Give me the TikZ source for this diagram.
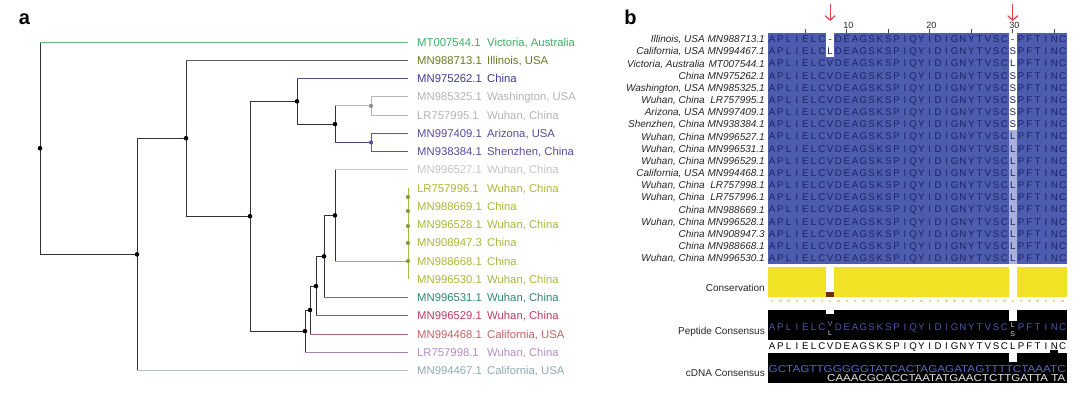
\documentclass[tikz,border=0pt]{standalone}
\usepackage{fontspec}
\setmainfont{Liberation Sans}
\usetikzlibrary{arrows.meta}
\definecolor{cVic}{HTML}{3FAE63}
\definecolor{cIll}{HTML}{6B7A22}
\definecolor{cChn}{HTML}{3C3C90}
\definecolor{cLg}{HTML}{B4B4B4}
\definecolor{cPur}{HTML}{5A4C9E}
\definecolor{cLgb}{HTML}{C4C4C4}
\definecolor{cYel}{HTML}{A8B83C}
\definecolor{cTeal}{HTML}{2E8A6E}
\definecolor{cCrim}{HTML}{C43A60}
\definecolor{cRose}{HTML}{C26466}
\definecolor{cLav}{HTML}{B48CC8}
\definecolor{cSlate}{HTML}{8EAAAE}
\definecolor{cTree}{HTML}{333333}
\definecolor{aBlue}{HTML}{4E5CAE}
\definecolor{aLet}{HTML}{1C2468}
\definecolor{aLight}{HTML}{A9B0DC}
\definecolor{consY}{HTML}{F2E226}
\definecolor{cBrown}{HTML}{6E2E0E}
\definecolor{dimBlue}{HTML}{4C56A8}
\definecolor{dnaBlue}{HTML}{5A66C4}
\definecolor{arrRed}{HTML}{E04444}
\definecolor{dotY}{HTML}{E2D99A}
\newcommand{\alnrow}[3]{%
  \node[rl] (loc#1) at (705,{26.92+12.17*#1}) {#2};
  \node[rl] (acc#1) at (765,{26.92+12.17*#1}) {#3};}
\begin{document}
\begin{tikzpicture}[x=1pt,y=-1pt,
  tline/.style={cTree,line width=0.9pt},
  hline/.style={line width=0.9pt},
  tacc/.style={anchor=west,inner sep=0pt,font=\fontsize{11.3}{12}\selectfont,text height=8.1pt,text depth=0pt},
  rl/.style={anchor=east,inner sep=0pt,font=\fontsize{10}{11}\selectfont\itshape,text=black!85,text height=7.2pt,text depth=0pt},
  aa/.style={inner sep=0pt,font=\fontsize{9.7}{10}\selectfont,text=aLet,text height=7pt,text depth=0pt},
  pc/.style={inner sep=0pt,font=\fontsize{9.7}{10}\selectfont,text=dimBlue,text height=7pt,text depth=0pt},
  pcs/.style={inner sep=0pt,font=\fontsize{7}{8}\selectfont,text height=5pt,text depth=0pt},
  cc/.style={inner sep=0pt,font=\fontsize{9.7}{10}\selectfont,text=black,text height=7pt,text depth=0pt},
  lab/.style={anchor=east,inner sep=0pt,font=\fontsize{10}{11}\selectfont,text=black!85,text height=7.2pt,text depth=0pt},
  num/.style={inner sep=0pt,font=\fontsize{9}{10}\selectfont,text=black!85},
  panel/.style={inner sep=0pt,font=\fontsize{20}{22}\selectfont\bfseries},
  redarrow/.style={arrRed,line width=1.2pt,-{Straight Barb[length=4.5pt,width=10pt]}},
  tick/.style={black!70,line width=0.6pt}]
\useasboundingbox (0,0) rectangle (1080,412);
\fill[white] (0,0) rectangle (1080,412);

% ---------------- panel a ----------------
\node[panel] (pa) at (24.5,19) {a};

% leaves
\coordinate (l0) at (408,42);
\coordinate (l1) at (408,60.25);
\coordinate (l2) at (408,78.5);
\coordinate (l3) at (408,96.75);
\coordinate (l4) at (408,115);
\coordinate (l5) at (408,133.25);
\coordinate (l6) at (408,151.5);
\coordinate (l7) at (408,169.75);
\coordinate (l8) at (408,188);
\coordinate (l9) at (408,206.25);
\coordinate (l10) at (408,224.5);
\coordinate (l11) at (408,242.75);
\coordinate (l12) at (408,261);
\coordinate (l13) at (408,279.25);
\coordinate (l14) at (408,297.5);
\coordinate (l15) at (408,315.75);
\coordinate (l16) at (408,334);
\coordinate (l17) at (408,352.25);
\coordinate (l18) at (408,370.5);
% internal nodes
\coordinate (R) at (40,148.2);
\coordinate (A) at (137,254.4);
\coordinate (B) at (186,138.2);
\coordinate (C) at (250,216.2);
\coordinate (D) at (297,101.3);
\coordinate (F) at (335,124.1);
\coordinate (G) at (371,105.9);
\coordinate (H) at (371,142.4);
\coordinate (E) at (305,331.1);
\coordinate (I) at (310,310.0);
\coordinate (J) at (316,286.1);
\coordinate (K) at (324,256.4);
\coordinate (L) at (335,215.4);
\coordinate (Y) at (408,261);

% verticals
\draw[tline] (R|-l0) -- (R|-A);
\draw[tline] (A|-B) -- (A|-l18);
\draw[tline] (B|-l1) -- (B|-C);
\draw[tline] (C|-D) -- (C|-E);
\draw[tline] (D|-l2) -- (D|-F);
\draw[tline] (F|-G) -- (F|-H);
\draw[tline] (E|-I) -- (E|-l17);
\draw[tline] (I|-J) -- (I|-l16);
\draw[tline] (J|-K) -- (J|-l15);
\draw[tline] (K|-L) -- (K|-l14);
\draw[tline] (L|-l7) -- (L|-Y);
\draw[hline,cLg] (G|-l3) -- (G|-l4);
\draw[hline,cPur!85!gray] (H|-l5) -- (H|-l6);
\draw[hline,cYel] (l8) -- (l13);
% internal horizontals
\draw[tline] (R|-A) -- (A);
\draw[tline] (A|-B) -- (B);
\draw[tline] (B|-C) -- (C);
\draw[tline] (C|-D) -- (D);
\draw[tline] (C|-E) -- (E);
\draw[tline] (D|-F) -- (F);
\draw[hline,cLg] (F|-G) -- (G);
\draw[hline,cPur!80!black] (F|-H) -- (H);
\draw[tline] (E|-I) -- (I);
\draw[tline] (I|-J) -- (J);
\draw[tline] (J|-K) -- (K);
\draw[tline] (K|-L) -- (L);
% leaf horizontals
\draw[hline,cVic!85!white] (R|-l0) -- (l0);
\draw[hline,black!65] (B|-l1) -- (l1);
\draw[hline,cChn!70!gray] (D|-l2) -- (l2);
\draw[hline,cLg] (G|-l3) -- (l3);
\draw[hline,cLg] (G|-l4) -- (l4);
\draw[hline,cPur!85!gray] (H|-l5) -- (l5);
\draw[hline,cPur!85!gray] (H|-l6) -- (l6);
\draw[hline,cLgb] (L|-l7) -- (l7);
\draw[hline,cYel] (L|-Y) -- (Y);
\draw[hline,cTeal!80!gray] (K|-l14) -- (l14);
\draw[hline,cCrim!80!gray] (J|-l15) -- (l15);
\draw[hline,cRose!70!gray] (I|-l16) -- (l16);
\draw[hline,cLav!60!gray] (E|-l17) -- (l17);
\draw[hline,cSlate!70!white] (A|-l18) -- (l18);
% node dots
\foreach \n in {R,A,B,C,D,F,E,I,J,K,L} \fill[black] (\n) circle (2.3);
\fill[cLg!80!black] (G) circle (2.1);
\fill[cPur] (H) circle (2.1);
\foreach \yy in {197,211,226,243,261} \fill[cYel!85!black] (408,\yy) circle (2.1);

% tree labels
\node[tacc,text=cVic] (ta0) at (417,42) {MT007544.1};
\node[tacc,text=cVic] (tl0) at (487,42) {Victoria, Australia};
\node[tacc,text=cIll] (ta1) at (417,60.25) {MN988713.1};
\node[tacc,text=cIll] (tl1) at (487,60.25) {Illinois, USA};
\node[tacc,text=cChn] (ta2) at (417,78.5) {MN975262.1};
\node[tacc,text=cChn] (tl2) at (487,78.5) {China};
\node[tacc,text=cLg] (ta3) at (417,96.75) {MN985325.1};
\node[tacc,text=cLg] (tl3) at (487,96.75) {Washington, USA};
\node[tacc,text=cLg] (ta4) at (417,115) {LR757995.1};
\node[tacc,text=cLg] (tl4) at (487,115) {Wuhan, China};
\node[tacc,text=cPur] (ta5) at (417,133.25) {MN997409.1};
\node[tacc,text=cPur] (tl5) at (487,133.25) {Arizona, USA};
\node[tacc,text=cPur] (ta6) at (417,151.5) {MN938384.1};
\node[tacc,text=cPur] (tl6) at (487,151.5) {Shenzhen, China};
\node[tacc,text=cLgb] (ta7) at (417,169.75) {MN996527.1};
\node[tacc,text=cLgb] (tl7) at (487,169.75) {Wuhan, China};
\node[tacc,text=cYel] (ta8) at (417,188) {LR757996.1};
\node[tacc,text=cYel] (tl8) at (487,188) {Wuhan, China};
\node[tacc,text=cYel] (ta9) at (417,206.25) {MN988669.1};
\node[tacc,text=cYel] (tl9) at (487,206.25) {China};
\node[tacc,text=cYel] (ta10) at (417,224.5) {MN996528.1};
\node[tacc,text=cYel] (tl10) at (487,224.5) {Wuhan, China};
\node[tacc,text=cYel] (ta11) at (417,242.75) {MN908947.3};
\node[tacc,text=cYel] (tl11) at (487,242.75) {China};
\node[tacc,text=cYel] (ta12) at (417,261) {MN988668.1};
\node[tacc,text=cYel] (tl12) at (487,261) {China};
\node[tacc,text=cYel] (ta13) at (417,279.25) {MN996530.1};
\node[tacc,text=cYel] (tl13) at (487,279.25) {Wuhan, China};
\node[tacc,text=cTeal] (ta14) at (417,297.5) {MN996531.1};
\node[tacc,text=cTeal] (tl14) at (487,297.5) {Wuhan, China};
\node[tacc,text=cCrim] (ta15) at (417,315.75) {MN996529.1};
\node[tacc,text=cCrim] (tl15) at (487,315.75) {Wuhan, China};
\node[tacc,text=cRose] (ta16) at (417,334) {MN994468.1};
\node[tacc,text=cRose] (tl16) at (487,334) {California, USA};
\node[tacc,text=cLav] (ta17) at (417,352.25) {LR757998.1};
\node[tacc,text=cLav] (tl17) at (487,352.25) {Wuhan, China};
\node[tacc,text=cSlate] (ta18) at (417,370.5) {MN994467.1};
\node[tacc,text=cSlate] (tl18) at (487,370.5) {California, USA};

% ---------------- panel b ----------------
\node[panel] (pb) at (630.5,17) {b};

% arrows
\coordinate (a1s) at (830.15,4);
\coordinate (a1e) at (830.15,21);
\coordinate (a2s) at (1012.75,4);
\coordinate (a2e) at (1012.75,21);
\draw[redarrow] (a1s) -- (a1e);
\draw[redarrow] (a2s) -- (a2e);

% ruler
\foreach \c in {5,10,...,35} \draw[tick] ({763.75+8.3*\c},29.5) -- ({763.75+8.3*\c},33);
\node[num] (n10) at ({763.75+8.3*10+1.5},25) {10};
\node[num] (n20) at ({763.75+8.3*20+1.5},25) {20};
\node[num] (n30) at ({763.75+8.3*30+1.5},25) {30};

% alignment block
\fill[aBlue] (767.9,33) rectangle (1066.7,264.2);
\fill[white] (826,33) rectangle (834.4,57.34);
\fill[white] (1008.6,33) rectangle (1016.9,130.4);
\fill[aLight] (1008.6,130.4) rectangle (1016.9,264.2);
\foreach \r in {1,...,19}{
  \foreach \ch [count=\c] in {A,P,L,I,E,L,C,V,D,E,A,G,S,K,S,P,I,Q,Y,I,D,I,G,N,Y,T,V,S,C,L,P,F,T,I,N,C}{
    \ifnum\c=8\relax\else\ifnum\c=30\relax\else
      \node[aa] (s\r-\c) at ({763.75+8.3*\c},{26.92+12.17*\r}) {\ch};
    \fi\fi
  }
}
\foreach \ch [count=\r] in {-,L,V,V,V,V,V,V,V,V,V,V,V,V,V,V,V,V,V}
  \node[aa] (s\r-8) at (830.15,{26.92+12.17*\r}) {\ch};
\foreach \ch [count=\r] in {-,S,L,S,S,S,S,S,L,L,L,L,L,L,L,L,L,L,L}
  \node[aa] (s\r-30) at (1012.75,{26.92+12.17*\r}) {\ch};

% row labels
\alnrow{1}{Illinois, USA}{MN988713.1}
\alnrow{2}{California, USA}{MN994467.1}
\alnrow{3}{Victoria, Australia}{MT007544.1}
\alnrow{4}{China}{MN975262.1}
\alnrow{5}{Washington, USA}{MN985325.1}
\alnrow{6}{Wuhan, China}{LR757995.1}
\alnrow{7}{Arizona, USA}{MN997409.1}
\alnrow{8}{Shenzhen, China}{MN938384.1}
\alnrow{9}{Wuhan, China}{MN996527.1}
\alnrow{10}{Wuhan, China}{MN996531.1}
\alnrow{11}{Wuhan, China}{MN996529.1}
\alnrow{12}{California, USA}{MN994468.1}
\alnrow{13}{Wuhan, China}{LR757998.1}
\alnrow{14}{Wuhan, China}{LR757996.1}
\alnrow{15}{China}{MN988669.1}
\alnrow{16}{Wuhan, China}{MN996528.1}
\alnrow{17}{China}{MN908947.3}
\alnrow{18}{China}{MN988668.1}
\alnrow{19}{Wuhan, China}{MN996530.1}

% conservation
\node[lab] (consl) at (765,288) {Conservation};
\fill[consY] (767.9,267) rectangle (1066.7,297);
\fill[white] (826,267) rectangle (834.4,297);
\fill[white] (1008.6,267) rectangle (1016.9,297);
\fill[cBrown] (826,292) rectangle (834.4,297);
\foreach \c in {1,...,36} \fill[dotY] ({763.75+8.3*\c-1.2},300.4) rectangle ++(2.4,1.2);

% peptide consensus
\node[lab] (pepl) at (765,331) {Peptide Consensus};
\fill[black] (767.9,310) rectangle (1066.7,340);
\fill[white] (826,310) rectangle (834.4,313.5);
\fill[white] (1008.6,310) rectangle (1016.9,321);
\foreach \ch [count=\c] in {A,P,L,I,E,L,C,V,D,E,A,G,S,K,S,P,I,Q,Y,I,D,I,G,N,Y,T,V,S,C,L,P,F,T,I,N,C}{
  \ifnum\c=8\relax\else\ifnum\c=30\relax\else
    \node[pc] (p-\c) at ({763.75+8.3*\c},327) {\ch};
  \fi\fi
  \node[cc] (c-\c) at ({763.75+8.3*\c},346) {\ch};
}
\node[pcs,text=dimBlue!70!white] (p8a) at (830.15,323.5) {V};
\node[pcs,text=black!15] (p8b) at (830.15,332.5) {L};
\node[pcs,text=black!15] (p30a) at (1012.75,324.5) {L};
\node[pcs,text=black!15] (p30b) at (1012.75,334) {S};

% cDNA consensus
\node[lab] (dnal) at (765,373) {cDNA Consensus};
\fill[black] (767.9,353) rectangle (1066.7,382.5);
\fill[black] (1050,350) rectangle (1058,353.5);
\fill[white] (1008.6,353) rectangle (1016.9,362);
\node[anchor=west,inner sep=0pt,text=dnaBlue] (d1) at (768.5,369.5)
  {\resizebox{297pt}{7pt}{GCTAGTTGGGGGTATCACTAGAGATAGTTTTCTAAATC}};
\node[anchor=west,inner sep=0pt,text=black!10] (d2) at (827,378)
  {\resizebox{238pt}{7pt}{CAAACGCACCTAATATGAACTCTTGATTA TA}};
\end{tikzpicture}
\end{document}
